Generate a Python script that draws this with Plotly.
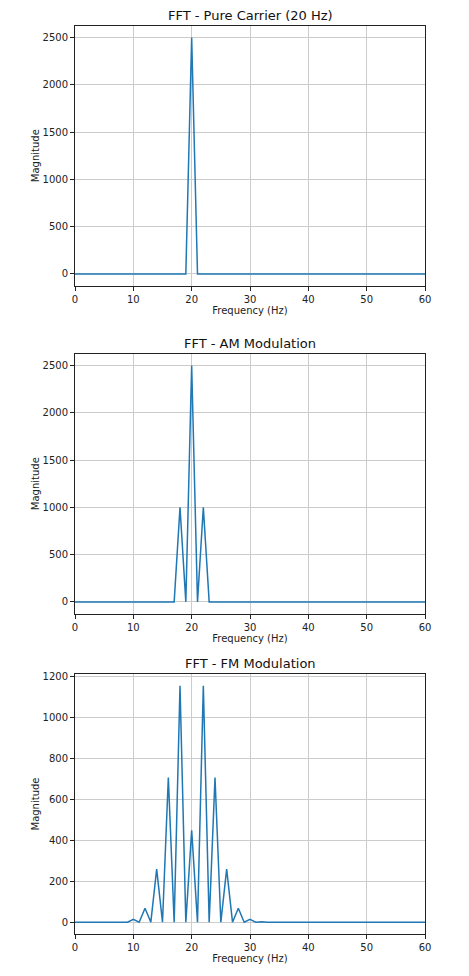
import plotly.graph_objects as go

# polyline vertices of each spectrum (1 Hz bins, zero elsewhere)
carrier_freq = [0, 19, 20, 21, 60]
carrier_mag = [0, 0, 2500, 0, 0]

am_freq = [0, 17, 18, 19, 20, 21, 22, 23, 60]
am_mag = [0, 0, 1000, 0, 2500, 0, 1000, 0, 0]

fm_freq = [0, 7, 8, 9, 10, 11, 12, 13, 14, 15, 16, 17, 18, 19, 20,
           21, 22, 23, 24, 25, 26, 27, 28, 29, 30, 31, 32, 33, 60]
fm_mag = [0, 0, 2, 0, 14, 0, 68, 0, 259, 0, 706, 0, 1153, 0, 448,
          0, 1153, 0, 706, 0, 259, 0, 68, 0, 14, 0, 2, 0, 0]

titles = ["FFT - Pure Carrier (20 Hz)", "FFT - AM Modulation", "FFT - FM Modulation"]
x_ticks = [0, 10, 20, 30, 40, 50, 60]
y_ticks = [[0, 500, 1000, 1500, 2000, 2500],
           [0, 500, 1000, 1500, 2000, 2500],
           [0, 200, 400, 600, 800, 1000, 1200]]
y_ranges = [[-125, 2625], [-125, 2625], [-57.7, 1211]]

# page body has an 8px margin, so the figure is a bit smaller and shifted
OFF = 8
W, H = 469 - OFF, 976 - OFF
x_dom = [(75 - OFF) / W, (425 - OFF) / W]
# top/bottom pixel of each axes box (page coordinates)
boxes = [(25.7, 285.7), (353.7, 613.7), (674, 934)]

fig = go.Figure()
font = "DejaVu Sans"
data = [(carrier_freq, carrier_mag), (am_freq, am_mag), (fm_freq, fm_mag)]

for i, (fx, fy) in enumerate(data):
    n = "" if i == 0 else str(i + 1)
    fig.add_trace(go.Scatter(x=fx, y=fy, mode="lines", xaxis="x" + n, yaxis="y" + n,
                             line=dict(color="#1f77b4", width=1.5), showlegend=False))
    top, bot = boxes[i]
    y_dom = [1 - (bot - OFF) / H, 1 - (top - OFF) / H]
    axis_common = dict(showline=True, linecolor="#222222", linewidth=1, mirror=True,
                       showgrid=True, gridcolor="#cccccc", gridwidth=1, zeroline=False,
                       ticks="outside", ticklen=4, tickcolor="#222222", automargin=False,
                       tickfont=dict(family=font, size=10, color="#222222"))
    fig.update_layout({
        "xaxis" + n: dict(domain=x_dom, range=[0, 60], tickvals=x_ticks,
                          anchor="y" + n,
                          title=dict(text="Frequency (Hz)", standoff=2,
                                     font=dict(family=font, size=10, color="#222222")),
                          **axis_common),
        "yaxis" + n: dict(domain=y_dom, range=y_ranges[i], tickvals=y_ticks[i],
                          anchor="x" + n,
                          title=dict(text="Magnitude", standoff=1,
                                     font=dict(family=font, size=10, color="#222222")),
                          **axis_common),
    })
    fig.add_annotation(text=titles[i], x=(x_dom[0] + x_dom[1]) / 2, y=y_dom[1],
                       xref="paper", yref="paper", xanchor="center", yanchor="bottom",
                       yshift=1, showarrow=False,
                       font=dict(family=font, size=13, color="#111111"))

fig.update_layout(width=W, height=H, margin=dict(l=0, r=0, t=0, b=0),
                  paper_bgcolor="white", plot_bgcolor="white")

fig.write_html("out.html")
